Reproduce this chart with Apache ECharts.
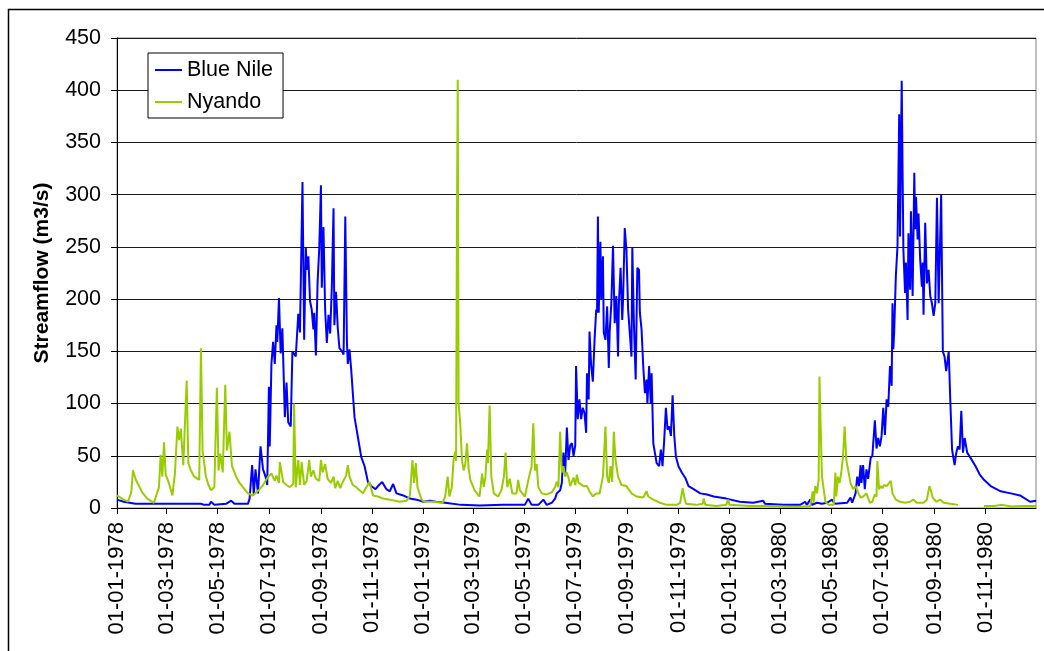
<!DOCTYPE html>
<html>
<head>
<meta charset="utf-8">
<script src="https://cdn.jsdelivr.net/npm/echarts@6/dist/echarts.min.js"></script>
<style>
html,body{margin:0;padding:0;background:#fff;}
#chart{width:1044px;height:651px;}
</style>
</head>
<body>
<div id="chart"></div>
<script>
// Day offsets from 01-01-1978 and streamflow values (m3/s)
var nileDay = [0,8,15,22,60,100,104,110,112,116,130,136,140,150,156,158,161,163,165,168,171,174,177,179,181,182,184,186,188,190,191,193,195,197,200,202,204,207,209,213,216,218,221,223,225,226,228,230,232,234,235,237,239,241,243,244,246,248,250,252,254,256,258,259,261,263,265,268,270,272,274,275,277,279,283,287,291,295,299,303,308,311,316,321,325,329,333,341,349,357,365,373,380,391,410,432,460,486,490,494,502,508,512,518,522,524,528,530,531,532,534,536,538,540,542,544,546,547,549,551,553,555,557,559,560,562,563,565,567,569,571,572,573,574,576,577,579,580,582,584,586,587,589,591,593,595,597,598,600,602,603,605,607,609,611,613,614,616,618,620,622,623,625,627,629,631,632,634,636,637,639,643,646,648,650,652,654,656,658,660,662,664,666,669,673,677,681,687,695,703,711,726,742,758,770,772,794,814,820,822,826,828,834,840,846,852,855,870,874,876,880,882,884,886,887,889,891,893,895,898,900,903,905,907,909,911,913,915,917,919,921,923,924,925,926,928,930,932,933,935,936,937,939,940,942,943,945,946,948,950,951,952,954,955,957,959,960,961,963,965,967,969,971,973,975,977,979,982,984,986,988,991,993,995,998,1000,1002,1004,1006,1008,1010,1013,1017,1023,1028,1033,1041,1053,1065,1076,1088,1095];
var nileFlow = [8,6,5,4,4,4,3,3,6,3,4,7,4,4,4,9,41,13,37,14,59,37,30,22,116,59,138,159,138,175,159,201,148,172,87,120,82,78,150,145,186,168,312,161,249,228,241,198,190,171,187,146,216,249,309,211,269,190,158,185,167,213,287,175,207,173,153,150,147,279,158,138,152,133,87,68,49,40,25,21,18,21,25,18,16,23,14,12,9,8,6,7,6,5,3,2.5,3,3,9,3,3,8,3,5,9,14,17,24,40,53,33,77,46,60,62,50,60,136,85,104,85,96,91,72,129,104,169,136,121,161,190,187,279,187,255,200,241,168,161,193,134,168,196,251,177,203,145,196,230,180,200,268,247,190,190,145,249,174,123,230,228,187,171,136,110,123,100,136,100,129,62,43,40,56,40,65,96,75,78,69,108,69,49,40,34,29,21,18,14,13,11,9,6,5,7,4,3,3,6,3,8,3,5,4,5,8,4,5,10,5,14,30,21,41,24,41,18,37,28,48,50,84,57,67,59,69,96,70,104,97,136,117,196,152,168,222,251,377,260,409,324,247,206,235,180,263,209,284,203,321,267,298,257,282,238,212,235,185,273,215,228,203,196,184,196,297,196,300,150,145,131,150,100,56,41,53,59,56,93,53,67,53,48,40,32,27,21,16,14,12,6,7];

var nyandoDay = [0,6,13,17,19,22,25,30,36,44,48,50,52,54,56,58,61,64,66,69,72,74,76,79,83,85,88,92,98,100,102,106,109,112,116,119,121,123,126,129,131,134,137,142,146,150,156,162,166,170,174,180,184,188,190,193,194,198,202,206,210,211,213,216,218,220,223,226,229,231,234,237,241,243,245,248,251,255,258,260,263,266,269,273,275,277,281,285,289,293,295,301,305,311,317,325,337,345,349,352,354,356,358,360,363,366,376,388,391,394,396,399,401,403,404,405,406,407,409,411,413,415,417,419,421,426,432,435,437,439,441,442,444,446,449,454,458,461,463,465,468,471,476,478,480,486,491,494,496,498,500,502,506,512,518,522,524,526,528,530,532,534,536,538,540,542,544,546,548,550,552,556,560,563,567,571,575,579,582,584,586,588,590,592,594,597,601,607,613,619,627,631,633,639,647,655,667,671,674,676,678,690,698,699,701,714,726,728,730,754,774,810,826,829,830,832,834,836,837,839,840,842,844,848,854,856,857,859,861,863,865,867,869,871,874,877,880,884,886,889,893,897,900,903,905,906,908,910,912,914,917,920,922,924,928,933,939,945,949,953,961,965,968,970,972,976,981,985,993,1002,1015,1033,1045,1055,1065,1080,1095];
var nyandoFlow = [12,9,6,15,36,28,23,15,9,5,15,20,51,30,63,32,26,18,12,33,78,65,76,41,122,43,36,30,27,153,55,30,22,17,20,115,36,52,34,118,55,73,40,30,24,20,14,12,15,18,22,30,33,26,31,24,44,25,22,20,23,100,20,46,22,44,22,26,46,30,36,28,26,46,34,42,28,24,30,19,26,19,25,31,41,30,22,20,17,14,17,25,12,11,9,8,6,7,12,46,24,43,20,15,8,6,6,5,11,30,11,20,46,54,45,265,410,100,81,46,36,42,62,38,27,17,11,33,20,30,56,43,98,30,14,11,17,30,53,20,28,14,14,27,17,11,30,40,81,36,42,20,14,13,15,20,25,20,73,34,40,30,34,29,21,25,29,22,32,24,25,21,21,16,11,14,14,30,78,30,24,40,25,73,46,30,22,21,14,11,10,16,11,8,5,3,3,5,19,10,4,3,4,9,3,2,3,8,3,2,2,1,2,16,5,21,14,27,126,59,30,18,6,3,3,34,11,30,24,34,49,78,46,37,24,18,21,13,10,11,14,5,6,13,11,45,18,21,19,22,21,24,26,14,8,6,5,6,8,5,5,8,21,16,10,6,8,5,4,3,null,2,2,3,1.5,2,2];

var seriesNames = ['Blue Nile', 'Nyando'];
var yTicks = [0, 50, 100, 150, 200, 250, 300, 350, 400, 450];

// Daily category axis 01-01-1978 .. 31-12-1980
var startDate = Date.UTC(1978, 0, 1);
var categories = [];
for (var i = 0; i < 1096; i++) {
  var d = new Date(startDate + i * 86400000);
  var dd = ('0' + d.getUTCDate()).slice(-2);
  var mm = ('0' + (d.getUTCMonth() + 1)).slice(-2);
  categories.push(dd + '-' + mm + '-' + d.getUTCFullYear());
}
function isTick(idx, value) {
  var v = categories[idx];
  return v.slice(0, 2) === '01' && (parseInt(v.slice(3, 5), 10) % 2 === 1);
}
function pairs(days, vals) {
  var out = [];
  for (var k = 0; k < days.length; k++) {
    out.push([days[k], vals[k] === null ? '-' : vals[k]]);
  }
  return out;
}

var font = 'Arial, "Liberation Sans", sans-serif';
var chart = echarts.init(document.getElementById('chart'), null, {renderer: 'canvas'});
chart.setOption({
  backgroundColor: '#fff',
  animation: false,
  graphic: [{
    type: 'rect',
    shape: {x: 8.5, y: 9.5, width: 1060, height: 700},
    style: {fill: 'none', stroke: '#000', lineWidth: 1.5},
    z: -1
  }],
  grid: {
    left: 117, right: 8, top: 38, bottom: 143,
    show: true, borderColor: '#808080', borderWidth: 1, backgroundColor: '#fff'
  },
  legend: {
    data: seriesNames,
    orient: 'vertical',
    left: 148, top: 53,
    padding: [4, 10, 3, 7],
    itemGap: 6,
    itemWidth: 27,
    itemHeight: 2,
    icon: 'rect',
    backgroundColor: '#fff',
    borderColor: '#000',
    borderWidth: 1,
    borderRadius: 0,
    textStyle: {fontFamily: font, fontSize: 21.5, color: '#000', lineHeight: 26}
  },
  xAxis: {
    type: 'category',
    data: categories,
    boundaryGap: false,
    axisLine: {lineStyle: {color: '#000', width: 1}},
    axisTick: {show: true, interval: isTick, length: 6, inside: false, lineStyle: {color: '#000'}},
    axisLabel: {
      interval: isTick, rotate: 90, margin: 14,
      fontFamily: font, fontSize: 22, color: '#000'
    },
    splitLine: {show: false}
  },
  yAxis: {
    type: 'value',
    min: yTicks[0], max: yTicks[yTicks.length - 1], interval: 50,
    name: 'Streamflow (m3/s)',
    nameLocation: 'middle',
    nameRotate: 90,
    nameGap: 64,
    nameTextStyle: {fontFamily: font, fontSize: 21, fontWeight: 'bold', color: '#000'},
    axisLine: {show: true, lineStyle: {color: '#000', width: 1}},
    axisTick: {show: true, length: 6, lineStyle: {color: '#000'}},
    axisLabel: {margin: 16, fontFamily: font, fontSize: 21.5, color: '#000'},
    splitLine: {show: true, lineStyle: {color: '#1a1a1a', width: 1}}
  },
  series: [{
    name: seriesNames[0],
    type: 'line',
    data: pairs(nileDay, nileFlow),
    symbol: 'none',
    lineStyle: {color: '#0000ff', width: 2},
    itemStyle: {color: '#0000ff'},
    z: 3
  }, {
    name: seriesNames[1],
    type: 'line',
    data: pairs(nyandoDay, nyandoFlow),
    symbol: 'none',
    connectNulls: false,
    lineStyle: {color: '#99cc00', width: 2},
    itemStyle: {color: '#99cc00'},
    z: 4
  }]
});
</script>
</body>
</html>
